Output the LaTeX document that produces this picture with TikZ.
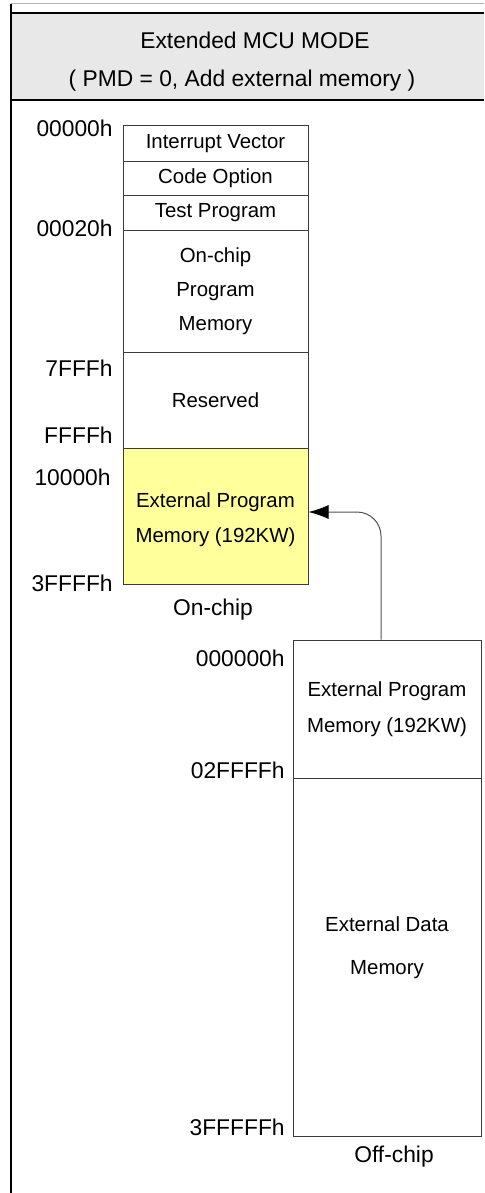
\documentclass[tikz,border=0pt]{standalone}
\usepackage{fontspec}
\setmainfont{Liberation Sans}
\usepackage{tikz}
\usetikzlibrary{arrows.meta}
\usepackage{xcolor}
\definecolor{headbg}{RGB}{232, 232, 232}
\definecolor{extyellow}{RGB}{255, 255, 155}
\definecolor{boxline}{RGB}{60, 60, 60}
\definecolor{arrowgray}{RGB}{80, 80, 80}

\begin{document}
\begin{tikzpicture}[x=0.5pt, y=-0.5pt,
    mem/.style={draw=boxline, line width=0.5pt, inner sep=0pt, align=center, font=\fontsize{10.2}{17}\selectfont},
    onchip/.style={mem, minimum width=92.5pt},
    offchip/.style={mem, minimum width=94pt},
    addr/.style={anchor=east, inner sep=0pt, font=\fontsize{11.4}{13}\selectfont},
    head/.style={inner sep=0pt, font=\fontsize{11.4}{13}\selectfont},
    flow/.style={draw=arrowgray, line width=0.5pt, rounded corners=12pt, -{Latex[length=10pt, width=7pt, black]}}]
      \useasboundingbox (0,0) rectangle (484,1193);

      % frame and header
      \fill[headbg] (11,13) rectangle (484,100);
      \draw[black!30, line width=0.5pt] (11,4) -- (484,4);
      \draw[line width=1pt] (11,13) -- (484,13);
      \draw[line width=1pt] (11,100) -- (484,100);
      \draw[line width=1pt] (11,4) -- (11,1193);
      \node[head] (title) at (255,40) {Extended MCU MODE};
      \node[head] (subtitle) at (242,81) {( PMD = 0, Add external memory )};

      % on-chip map
      \node[onchip, minimum height=17.5pt] (ivec) at (215.5,143.5) {Interrupt Vector};
      \node[onchip, minimum height=17pt] (copt) at (215.5,178) {Code Option};
      \node[onchip, minimum height=17.5pt] (test) at (215.5,212.5) {Test Program};
      \node[onchip, minimum height=61pt] (onprog) at (215.5,291) {On-chip\\Program\\Memory};
      \node[onchip, minimum height=48pt] (resv) at (215.5,400) {Reserved};
      \node[onchip, fill=extyellow, minimum height=68pt,
            label={[align=center, font=\fontsize{10.2}{17}\selectfont, yshift=-2pt]center:External Program\\[0.5pt]Memory (192KW)}] (extprog) at (215.5,516) {};

      \node[addr] (a00000) at (113,128) {00000h};
      \node[addr] (a00020) at (113,228) {00020h};
      \node[addr] (a7fff) at (113,368) {7FFFh};
      \node[addr] (affff) at (113,435) {FFFFh};
      \node[addr] (a10000) at (111,477) {10000h};
      \node[addr] (a3ffff) at (113,583) {3FFFFh};
      \node[head] (onlabel) at (213,610) {On-chip};

      % off-chip map
      \node[offchip, minimum height=69pt] (offprog) at (387,709) {External Program\\[1pt]Memory (192KW)};
      \node[offchip, minimum height=179pt,
            label={[align=center, font=\fontsize{10.2}{17}\selectfont, yshift=4.5pt]center:External Data\\[4.5pt]Memory}] (offdata) at (387,957) {};

      \node[addr] (b000000) at (285,658) {000000h};
      \node[addr] (b02ffff) at (285,770) {02FFFFh};
      \node[addr] (b3fffff) at (285,1127) {3FFFFFh};
      \node[head] (offlabel) at (394,1157) {Off-chip};

      \draw[flow] ([xshift=-3pt]offprog.north) |- ([yshift=2pt]extprog.east);
\end{tikzpicture}
\end{document}
